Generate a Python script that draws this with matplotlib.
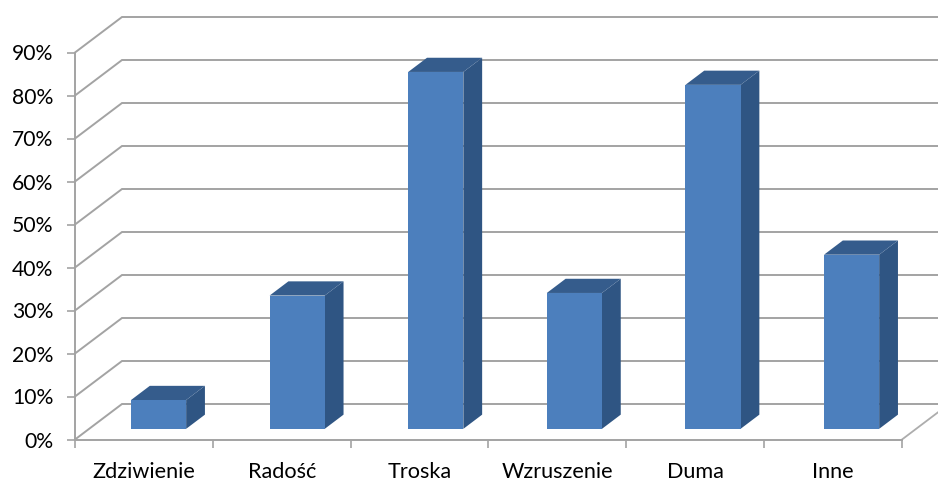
import numpy as np
import matplotlib
matplotlib.use("Agg")
import matplotlib.pyplot as plt
from matplotlib.patches import Polygon

categories = ["Zdziwienie", "Radość", "Troska", "Wzruszenie", "Duma", "Inne"]
values = [6.7, 31, 83, 31.6, 80, 40.5]
y_ticks = [0, 10, 20, 30, 40, 50, 60, 70, 80, 90]

W, H = 938, 480
GRID = "#a3a3a3"
FRONT = "#4c7fbd"
SIDE = "#2f5583"
TOP = "#355c8c"

plt.rcParams["font.family"] = ["Lato", "DejaVu Sans"]

fig = plt.figure(figsize=(W / 100, H / 100), dpi=100, facecolor="white")
# plot plane in pixels: x 75..902, y 439.5..52.5
ax = fig.add_axes([75 / W, 1 - 439.5 / H, 827 / W, 387 / H])
ax.set_xlim(0, 6)
ax.set_ylim(0, 90)
ax.patch.set_visible(False)

# depth of the 3D box, expressed in data units per unit of depth
dx = 47 * 6 / 827
dy = 35.5 * 90 / 387


def proj(x, v, d):
    return (x + d * dx, v + d * dy)


# back wall gridlines and the side wall diagonals
x_end = 6 + 36 * 6 / 827
for v in y_ticks:
    ax.plot([0, dx, x_end], [v, v + dy, v + dy], color=GRID, lw=1.4,
            clip_on=False, zorder=1, solid_joinstyle="miter")
ax.plot([6, x_end], [0, dy * 36 / 47], color="#adadad", lw=1.3, clip_on=False, zorder=1)

# bars: front, side and top faces
bar_w = 0.4
pitch = 1.0056
start = 0.504
d0, d1 = 0.3, 0.7
for i, v in enumerate(values):
    x0 = start + i * pitch - bar_w / 2
    x1 = start + i * pitch + bar_w / 2
    front = [proj(x0, 0, d0), proj(x1, 0, d0), proj(x1, v, d0), proj(x0, v, d0)]
    side = [proj(x1, 0, d0), proj(x1, 0, d1), proj(x1, v, d1), proj(x1, v, d0)]
    top = [proj(x0, v, d0), proj(x1, v, d0), proj(x1, v, d1), proj(x0, v, d1)]
    ax.add_patch(Polygon(side, closed=True, fc=SIDE, ec="none", clip_on=False, zorder=3))
    ax.add_patch(Polygon(top, closed=True, fc=TOP, ec="none", clip_on=False, zorder=3))
    ax.add_patch(Polygon(front, closed=True, fc=FRONT, ec="none", clip_on=False, zorder=4))

for s in ["top", "right"]:
    ax.spines[s].set_visible(False)
for s in ["left", "bottom"]:
    ax.spines[s].set_color(GRID)
    ax.spines[s].set_linewidth(1.4)

ax.set_yticks(y_ticks)
ax.set_yticklabels([f"{v}%" for v in y_ticks])
ax.set_xticks(np.arange(7))
ax.set_xticklabels([])
ax.set_xticks(np.arange(6) + 0.5, minor=True)
ax.set_xticklabels(categories, minor=True)
ax.tick_params(axis="y", length=5.5, width=1.2, color=GRID, labelsize=15.2,
               labelcolor="black", pad=10)
ax.tick_params(axis="x", which="major", length=5.5, width=1.2, color=GRID)
ax.tick_params(axis="x", which="minor", length=0, labelsize=15.6, labelcolor="black", pad=16)

fig.savefig("out.png", dpi=100)
